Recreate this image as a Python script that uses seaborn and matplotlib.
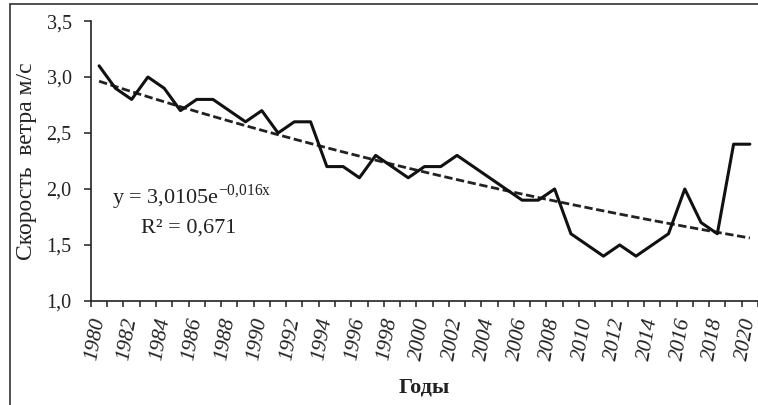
import numpy as np
import pandas as pd
import matplotlib
matplotlib.use("Agg")
import matplotlib.pyplot as plt
import matplotlib.transforms as mtransforms
from matplotlib.lines import Line2D
import seaborn as sns

# annual mean wind speed, m/s
years = list(range(1980, 2021))
speed = [3.1, 2.9, 2.8, 3.0, 2.9, 2.7, 2.8, 2.8, 2.7, 2.6,
         2.7, 2.5, 2.6, 2.6, 2.2, 2.2, 2.1, 2.3, 2.2, 2.1,
         2.2, 2.2, 2.3, 2.2, 2.1, 2.0, 1.9, 1.9, 2.0, 1.6,
         1.5, 1.4, 1.5, 1.4, 1.5, 1.6, 2.0, 1.7, 1.6, 2.4,
         2.4]

# exponential trend as printed on the chart
trend_a = 3.0105
trend_b = -0.016

df = pd.DataFrame({"year": years, "speed": speed})
df["idx"] = np.arange(1, len(df) + 1)
df["trend"] = trend_a * np.exp(trend_b * df["idx"])

sns.set_style("white")
plt.rcParams["font.family"] = ["Liberation Serif", "DejaVu Serif"]
plt.rcParams["mathtext.fontset"] = "custom"
plt.rcParams["mathtext.rm"] = "Liberation Serif"

ink = "#222222"

fig = plt.figure(figsize=(7.58, 4.05), dpi=100)
ax = fig.add_axes([0.120, 0.257, 0.880, 0.691])

sns.lineplot(data=df, x="year", y="trend", ax=ax, color=ink,
             linewidth=2.0, linestyle=(0, (3.0, 1.3)))
sns.lineplot(data=df, x="year", y="speed", ax=ax, color="#111111",
             linewidth=2.2)

ax.set_xlim(years[0] - 0.5, years[-1] + 0.5)
ax.set_ylim(1.0, 3.5)

yt = [1.0, 1.5, 2.0, 2.5, 3.0, 3.5]
ax.set_yticks(yt)
ax.set_yticklabels([f"{v:.1f}".replace(".", ",") for v in yt], fontsize=14.5)
ax.tick_params(axis="y", direction="out", length=5, width=1.1,
               left=True, pad=9, colors=ink)

ax.set_xticks(years[::2])
ax.set_xticklabels([str(y) for y in years[::2]], rotation=80,
                   fontsize=15.5, style="italic")
ax.set_xticks(np.arange(years[0] - 0.5, years[-1] + 1.0, 1.0), minor=True)
ax.tick_params(axis="x", which="major", length=0, pad=11, colors=ink)
ax.tick_params(axis="x", which="minor", direction="out", length=4.3,
               width=1.1, bottom=True, colors=ink)
shift = mtransforms.ScaledTranslation(-4 / 100, 0, fig.dpi_scale_trans)
for lab in ax.get_xticklabels():
    lab.set_transform(lab.get_transform() + shift)

for side in ["top", "right"]:
    ax.spines[side].set_visible(False)
for side in ["left", "bottom"]:
    ax.spines[side].set_color(ink)
    ax.spines[side].set_linewidth(1.2)

ax.set_xlabel("Годы", fontsize=16, fontweight="bold", labelpad=11, color=ink)
ax.set_ylabel("Скорость  ветра м/с", fontsize=17, labelpad=7, color=ink)

ax.text(1980.8, 1.866, "y = 3,0105e$^{\\mathregular{-0{,}016x}}$",
        fontsize=16, va="baseline", color=ink)
ax.text(1982.6, 1.607, "R² = 0,671", fontsize=16, va="baseline", color=ink)

# frame of the original picture (left and top edges only visible)
fig.lines.append(Line2D([0.0135, 0.0135], [0.0, 0.990], transform=fig.transFigure,
                        color="#333333", linewidth=1.2))
fig.lines.append(Line2D([0.0135, 1.0], [0.990, 0.990], transform=fig.transFigure,
                        color="#333333", linewidth=1.2))

fig.savefig("out.png", dpi=100)
